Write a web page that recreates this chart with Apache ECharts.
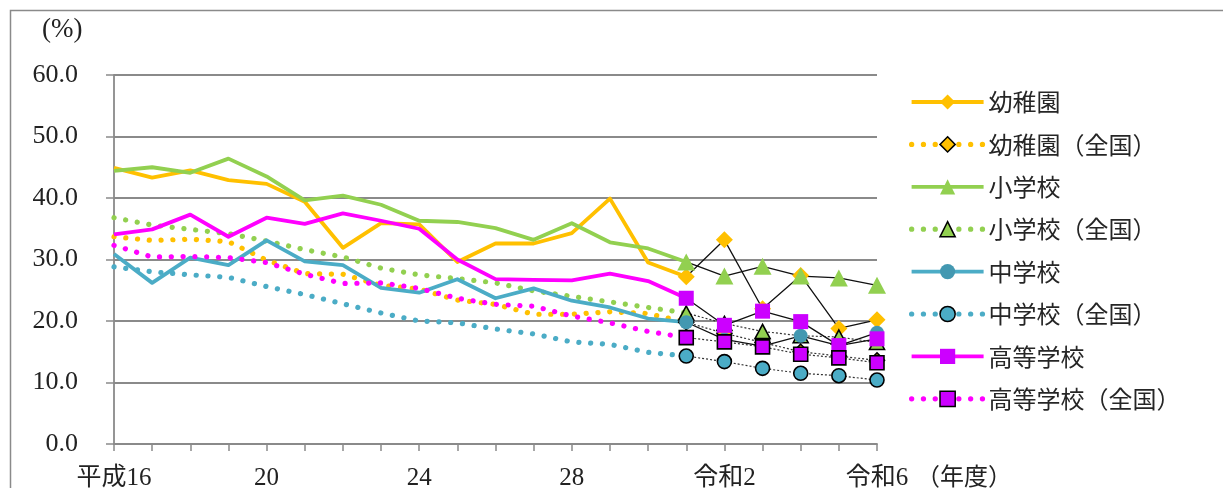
<!DOCTYPE html>
<html>
<head>
<meta charset="utf-8">
<script src="https://cdn.jsdelivr.net/npm/echarts@6/dist/echarts.min.js"></script>
<style>
html,body{margin:0;padding:0;background:#fff;}
#chart{width:1223px;height:488px;}
</style>
</head>
<body>
<div id="chart"></div>
<script>
// ---- data ----
const categories = ['平成16','17','18','19','20','21','22','23','24','25','26','27','28','29','30','令和元','令和2','3','4','5','令和6'];
const yTicks = [0, 10, 20, 30, 40, 50, 60];
const seriesNames = ['幼稚園','幼稚園（全国）','小学校','小学校（全国）','中学校','中学校（全国）','高等学校','高等学校（全国）'];
const youchien        = [44.9, 43.3, 44.5, 42.9, 42.3, 39.4, 31.9, 35.9, 35.7, 29.6, 32.6, 32.6, 34.3, 39.9, 29.5, 27.2, 33.2, 22.0, 27.4, 18.8, 20.2];
const youchienZenkoku = [33.7, 33.1, 33.3, 32.9, 29.9, 27.7, 27.6, 25.8, 25.2, 23.4, 22.7, 21.1, 21.1, 21.5, 21.2, 19.8, 18.0, 16.5, 15.0, 14.3, 13.6];
const shogakko        = [44.4, 45.0, 44.1, 46.4, 43.5, 39.6, 40.4, 38.9, 36.3, 36.1, 35.1, 33.2, 35.9, 32.8, 31.8, 29.6, 27.3, 28.9, 27.3, 27.0, 25.8];
const shogakkoZenkoku = [36.8, 35.6, 34.9, 34.2, 33.0, 31.6, 30.4, 28.6, 27.5, 26.9, 26.2, 24.9, 24.0, 23.1, 22.2, 21.3, 19.6, 18.3, 17.6, 17.4, 16.5];
const chugakko        = [30.9, 26.2, 30.3, 29.1, 33.1, 29.7, 29.1, 25.4, 24.6, 26.8, 23.7, 25.3, 23.3, 22.2, 20.4, 19.8, 17.0, 15.9, 17.6, 16.0, 18.1];
const chugakkoZenkoku = [28.8, 28.0, 27.5, 27.1, 25.6, 24.3, 22.8, 21.3, 20.0, 19.7, 18.7, 17.9, 16.6, 16.2, 14.9, 14.3, 13.4, 12.3, 11.5, 11.1, 10.4];
const koto            = [34.1, 34.9, 37.3, 33.7, 36.8, 35.8, 37.5, 36.3, 35.0, 30.0, 26.8, 26.7, 26.6, 27.7, 26.5, 23.7, 19.3, 21.6, 19.9, 16.0, 17.1];
const kotoZenkoku     = [32.3, 30.4, 30.5, 30.3, 29.5, 27.6, 26.1, 26.2, 25.3, 23.7, 22.7, 22.4, 20.8, 19.7, 18.3, 17.3, 16.6, 15.8, 14.6, 14.0, 13.2];
// index of 令和元 : from here values are drawn as markers joined by thin black lines
const markerStart = 15;

// ---- styles ----
const styles = [
  {data: youchien,        line: '#FFC000', fill: '#FFC000', symbol: 'diamond',  size: 17, national: false},
  {data: youchienZenkoku, line: '#FFC000', fill: '#FFC000', symbol: 'diamond',  size: 15, national: true},
  {data: shogakko,        line: '#92D050', fill: '#92D050', symbol: 'triangle', size: [18, 17], national: false},
  {data: shogakkoZenkoku, line: '#92D050', fill: '#92D050', symbol: 'triangle', size: [15, 14], national: true},
  {data: chugakko,        line: '#4BACC6', fill: '#4398B1', symbol: 'circle',   size: 14, national: false},
  {data: chugakkoZenkoku, line: '#4BACC6', fill: '#4BACC6', symbol: 'circle',   size: 14, national: true},
  {data: koto,            line: '#FF00FF', fill: '#CC00FF', symbol: 'rect',     size: 15, national: false},
  {data: kotoZenkoku,     line: '#FF00FF', fill: '#CC00FF', symbol: 'rect',     size: 14, national: true}
];
const dotDash = [0.1, 11.7];

const lineSeries = styles.map((s, i) => ({
  name: seriesNames[i],
  type: 'line',
  data: s.data.map((v, j) => (j <= markerStart ? v : null)),
  symbol: s.symbol,
  showSymbol: false,
  itemStyle: {color: s.fill},
  lineStyle: s.national
    ? {color: s.line, width: 5.2, type: dotDash, cap: 'round'}
    : {color: s.line, width: 3.8, join: 'round'},
  emphasis: {disabled: true},
  silent: true,
  z: 2
}));

const markerSeries = styles.map((s, i) => ({
  name: seriesNames[i],
  type: 'line',
  data: s.data.map((v, j) => (j >= markerStart ? v : null)),
  symbol: s.symbol,
  symbolSize: s.size,
  showSymbol: true,
  showAllSymbol: true,
  itemStyle: s.national
    ? {color: s.fill, borderColor: '#000', borderWidth: 1.6}
    : {color: s.fill, borderWidth: 0},
  lineStyle: s.national
    ? {color: '#333', width: 1.2, type: [2, 2]}
    : {color: '#111', width: 1.3},
  emphasis: {disabled: true},
  silent: true,
  z: 3
}));

const legendData = styles.map((s, i) => ({
  name: seriesNames[i],
  itemStyle: s.national
    ? {color: s.fill, borderColor: '#000', borderWidth: 1.5}
    : {color: s.fill, borderWidth: 0},
  lineStyle: s.national
    ? {width: 5.2, color: s.line}
    : {width: 3.8, color: s.line}
}));

const chart = echarts.init(document.getElementById('chart'), null, {renderer: 'canvas'});
chart.setOption({
  animation: false,
  backgroundColor: '#fff',
  grid: {left: 114, right: 346, top: 75, bottom: 44, containLabel: false, outerBoundsMode: 'none'},
  graphic: [
    {type: 'rect', left: 8, top: 8, shape: {width: 1400, height: 600},
     style: {fill: 'none', stroke: '#8a8a8a', lineWidth: 1.5}, silent: true, z: 0},
    {type: 'text', left: 42, top: 16,
     style: {text: '(%)', font: '27px "Liberation Serif", "Noto Sans CJK JP"', fill: '#222'}},
    {type: 'text', left: 916, top: 464,
     style: {text: '（年度）', font: '24px "Noto Sans CJK JP"', fill: '#222'}}
  ],
  legend: {
    orient: 'vertical',
    left: 909,
    top: 90,
    padding: 0,
    itemWidth: 72,
    itemHeight: 19,
    itemGap: 18.4,
    selectedMode: false,
    textStyle: {fontSize: 24, fontFamily: '"Noto Sans CJK JP"', color: '#262626'},
    data: legendData
  },
  xAxis: {
    type: 'category',
    boundaryGap: false,
    data: categories,
    axisLine: {show: true, lineStyle: {color: '#8a8a8a', width: 1.8}},
    axisTick: {show: true, interval: 0, length: 7, lineStyle: {color: '#8a8a8a', width: 1.5}},
    axisLabel: {
      interval: 3, margin: 22, fontSize: 25, color: '#222',
      fontFamily: '"Liberation Serif", "Noto Sans CJK JP"'
    },
    splitLine: {show: false}
  },
  yAxis: {
    type: 'value',
    min: yTicks[0],
    max: yTicks[yTicks.length - 1],
    interval: 10,
    axisLine: {show: true, lineStyle: {color: '#8a8a8a', width: 1.8}},
    axisTick: {show: true, length: 8, lineStyle: {color: '#8a8a8a', width: 1.5}},
    axisLabel: {
      margin: 36, fontSize: 26, color: '#222',
      fontFamily: '"Liberation Serif", "Noto Sans CJK JP"',
      formatter: v => v.toFixed(1)
    },
    splitLine: {show: true, lineStyle: {color: '#8a8a8a', width: 1.8}}
  },
  series: lineSeries.concat(markerSeries)
});
</script>
</body>
</html>
